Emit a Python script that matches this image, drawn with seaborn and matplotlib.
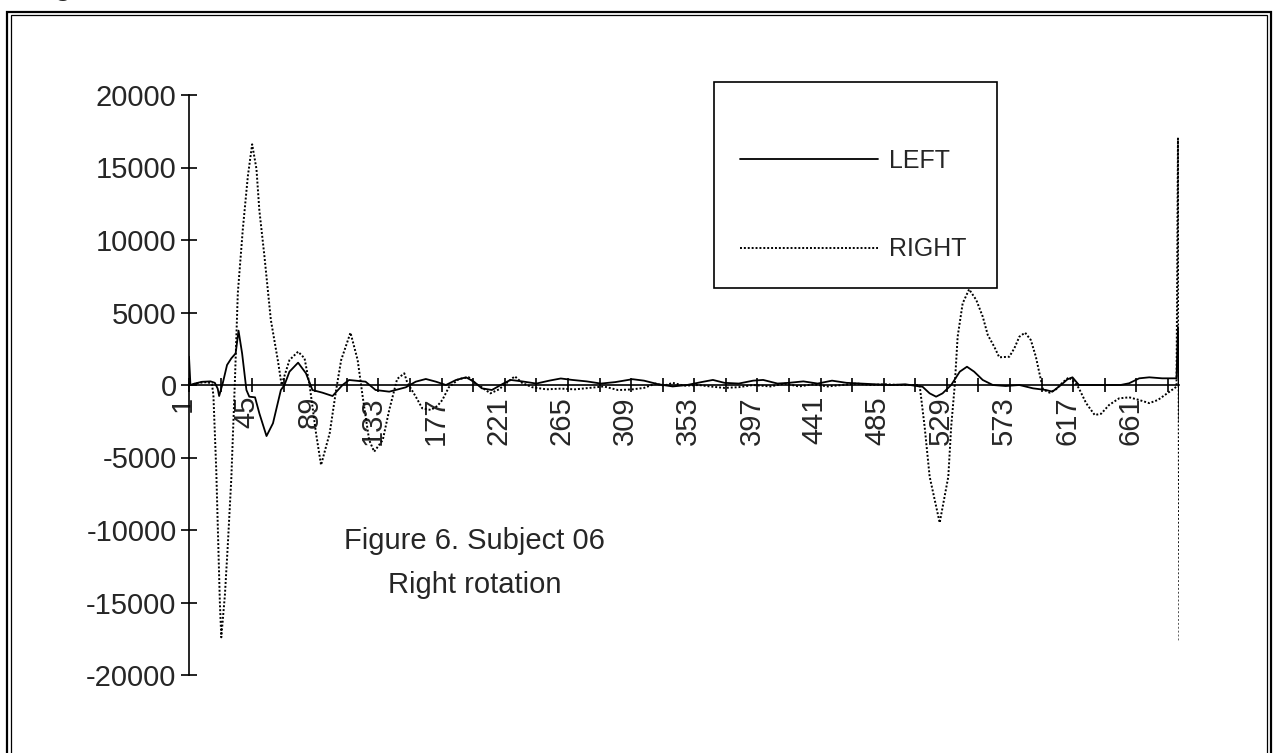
import matplotlib
matplotlib.use("Agg")
import matplotlib.pyplot as plt
import matplotlib.transforms as mtransforms
from matplotlib.lines import Line2D
from matplotlib.patches import Rectangle
import seaborn as sns

# sample index / value
left_x = [1, 2, 5, 10, 16, 19, 21, 22, 24.5, 27.5, 30.5, 33.5, 35.5, 38, 41, 43, 47, 50, 55,
          59.5, 65, 67.5, 71, 77, 82.5, 87, 94, 101, 108, 112.5, 124, 131, 140.5, 152, 159,
          166, 173, 180, 187, 194, 199.5, 205, 212,
          220, 225, 233, 243, 252, 260, 268, 278, 288, 298, 310, 318, 328, 338, 348, 358, 366,
          374, 384, 394, 401, 411, 419, 429, 439, 449, 459, 469, 479, 490, 500, 510,
          512, 517, 521.5, 526, 532, 538, 543, 548, 554, 561, 570, 579.5, 589, 598, 602.5,
          608.5, 613, 616.5, 621, 626, 640, 650, 656, 663, 670, 679, 689, 690, 691]
left_y = [1950, 0, 100, 220, 250, 150, -250, -760, 120, 1380, 1840, 2180, 3750, 2180, -345, -805,
          -850, -1950, -3520, -2640, -345, 0, 920, 1540, 805, -345, -530, -760, 0, 345, 230,
          -345, -460, -160, 230, 415, 230, 0, 345, 530, 230, -230, -345,
          100, 350, 250, 100, 300, 450, 350, 250, 100, 200, 400, 300, 50, -100, 0, 200, 350,
          150, 100, 300, 350, 100, 150, 250, 100, 300, 150, 100, 50, 0, 50, -100,
          -115, -575, -805, -575, 0, 920, 1260, 920, 345, 0, -70, 0, -230, -345, -460,
          0, 390, 530, 0, 0, 0, 0, 120, 460, 530, 460, 460, 4000, -2500]

right_x = [1, 8, 14, 17, 18, 20, 22.5, 23.5, 26, 28, 30.5, 33, 35, 38.5, 42, 45, 48, 50, 53.5,
           58, 63, 65.5, 71, 77, 81.5, 85, 89.5, 93, 99, 103.5, 107, 113.5, 118.5, 122, 126.5,
           130, 136, 140.5, 146, 151, 153, 159, 163.5, 169.5, 174, 177.5, 182, 189, 196,
           199.5, 205, 211,
           217, 223, 228, 233, 240, 250, 260, 270, 280, 290, 300, 310, 318, 326, 332, 338,
           346, 356, 364, 374, 384, 394, 406, 416, 426, 436, 446, 456, 466, 476, 486, 496, 506,
           510, 513.5, 517, 524, 530, 532, 534.5, 536.5, 540, 544.5, 549.5, 554, 557.5, 562,
           565.5, 572.5, 576, 579.5, 583.5, 587.5, 591, 594, 596, 600.5, 605, 609.5, 614,
           619, 621, 626, 632, 636.5, 642, 649, 656, 663, 670, 676, 682.5, 689, 690, 691]
right_y = [0, 150, 200, 50, -700, -5900, -15000, -17400, -14500, -11100, -6400, 340, 6330,
           10750, 14400, 16600, 14900, 12060, 8930, 4500, 1640, 0, 1720, 2300, 1840, 0, -3330,
           -5520, -3330, -345, 1720, 3610, 1720, -805, -3790, -4600, -3790, -1720, 415, 805,
           180, -805, -1610, -1720, -1450, -1035, -160, 415, 530, 180, -160, -575,
           -300, 200, 600, 150, -150, -300, -250, -300, -200, -100, -350, -300, -200, 100,
           -50, 150, -50, 0, -100, -200, -150, 0, -100, 100, -100, 50, -100, 0, 100, 0, 50,
           0, 0,
           0, -2870, -6320, -9500, -6320, -2870, 0, 3330, 5630, 6600, 5860, 4710, 3450, 2640,
           1910, 1950, 2530, 3330, 3610, 3100, 1950, 575, -300, -530, -300, 160, 530,
           70, -230, -1250, -2070, -1980, -1380, -920, -850, -1035, -1250, -1035, -575, -115,
           17000, -17700]

y_ticks = [-20000, -15000, -10000, -5000, 0, 5000, 10000, 15000, 20000]
x_labels = [1, 45, 89, 133, 177, 221, 265, 309, 353, 397, 441, 485, 529, 573, 617, 661]
x_minor = [23, 67, 111, 155, 199, 243, 287, 331, 375, 419, 463, 507, 551, 595, 639, 683]
series_names = ["LEFT", "RIGHT"]


def main():
    sns.set_style("white")
    plt.rcParams["font.family"] = ["Liberation Sans", "DejaVu Sans"]
    plt.rcParams["axes.unicode_minus"] = False

    W, H = 1275, 753
    fig = plt.figure(figsize=(12.75, 7.53), dpi=100)
    ax = fig.add_axes([189 / W, 1 - 675 / H, 990.4 / W, 580 / H])
    ax.set_facecolor("none")

    dotted = (0, (1, 1))
    sns.lineplot(x=left_x, y=left_y, ax=ax, color="black", linewidth=1.3,
                 estimator=None, sort=False)
    sns.lineplot(x=right_x, y=right_y, ax=ax, color="black", linewidth=1.4,
                 linestyle=dotted, estimator=None, sort=False)

    ax.set_xlim(1, 691)
    ax.set_ylim(-20000, 20000)
    ax.spines["bottom"].set_position(("data", 0))
    ax.spines["top"].set_visible(False)
    ax.spines["right"].set_visible(False)
    for s in ["left", "bottom"]:
        ax.spines[s].set_color("black")
        ax.spines[s].set_linewidth(1.2)

    ax.set_yticks(y_ticks)
    ax.set_yticklabels([str(v) for v in y_ticks])
    ax.set_xticks(x_labels)
    ax.set_xticklabels([str(v) for v in x_labels], rotation=90)
    ax.set_xticks(x_minor, minor=True)
    ax.tick_params(axis="y", left=True, direction="inout", length=12, width=1.2,
                   labelsize=21, pad=3, color="black")
    ax.tick_params(axis="x", which="both", bottom=True, direction="inout", length=10,
                   width=1.2, labelsize=21, pad=3, color="black")
    shift = mtransforms.ScaledTranslation(-0.06, 0, fig.dpi_scale_trans)
    for lab in ax.get_xticklabels():
        lab.set_transform(lab.get_transform() + shift)
    ax.set_xlabel("")
    ax.set_ylabel("")

    # legend box
    fig.add_artist(Rectangle((714 / W, 1 - 288 / H), 283 / W, 206 / H,
                             transform=fig.transFigure, fill=False, ec="black", lw=1.2))
    handles = [Line2D([], [], color="black", lw=1.3),
               Line2D([], [], color="black", lw=1.4, ls=dotted)]
    fig.legend(handles, series_names, loc="center left",
               bbox_to_anchor=(740 / W, 1 - 205 / H), frameon=False, fontsize=18,
               handlelength=5.5, handletextpad=0.45, labelspacing=2.6,
               borderpad=0, borderaxespad=0)

    fig.text(474 / W, 1 - 541 / H, "Figure 6. Subject 06", ha="center", va="center",
             fontsize=21)
    fig.text(475 / W, 1 - 585 / H, "Right rotation", ha="center", va="center", fontsize=21)

    # double frame of the scanned page
    fig.add_artist(Rectangle((7 / W, -10 / H), 1264 / W, 751 / H,
                             transform=fig.transFigure, fill=False, ec="black", lw=1.6))
    fig.add_artist(Rectangle((11 / W, -10 / H), 1256 / W, 748 / H,
                             transform=fig.transFigure, fill=False, ec="black", lw=0.9))
    fig.text(55 / W, 1 + 4 / H, "g", fontsize=19, fontweight="bold", va="baseline")

    fig.savefig("out.png", dpi=100)


if __name__ == "__main__":
    main()
